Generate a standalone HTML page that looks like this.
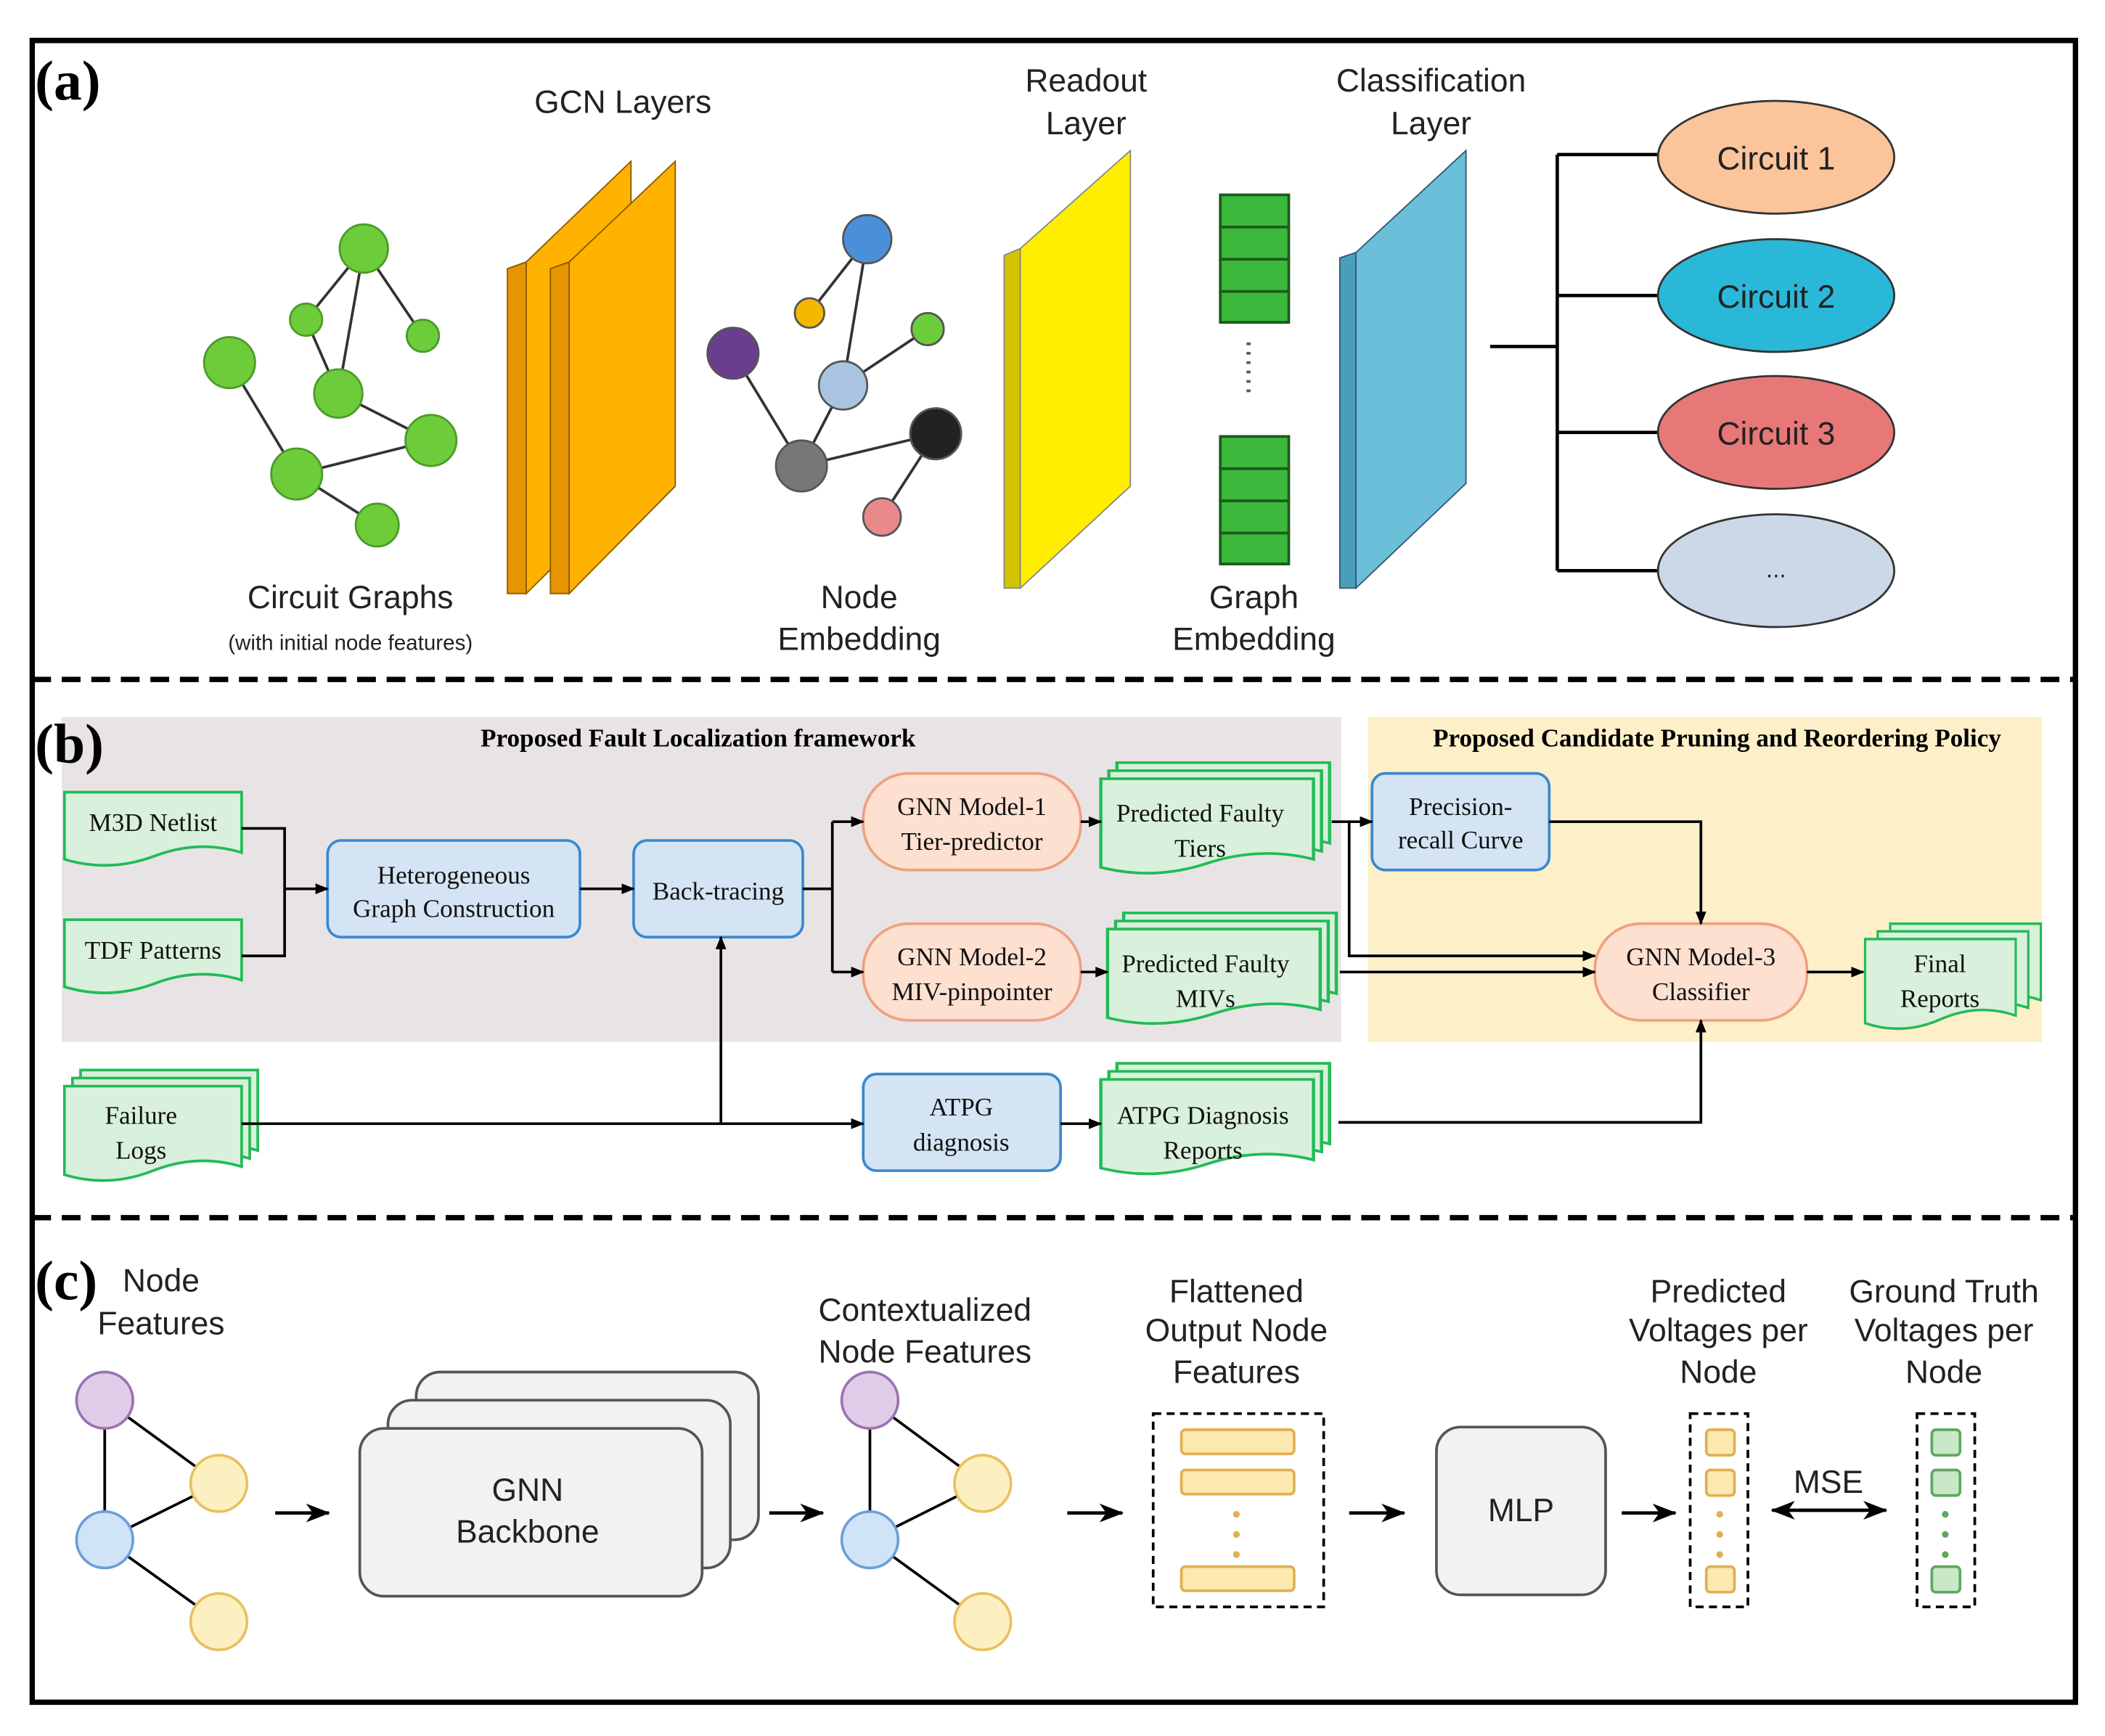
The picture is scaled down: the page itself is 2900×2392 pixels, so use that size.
<!DOCTYPE html>
<html><head><meta charset="utf-8"><style>html,body{margin:0;padding:0;background:#fff}svg{display:block}</style></head><body>
<svg width="2900" height="2392" viewBox="0 0 1568 1293" xmlns="http://www.w3.org/2000/svg">
<defs>
<marker id="ar" markerWidth="10" markerHeight="10" refX="9" refY="5" orient="auto" markerUnits="userSpaceOnUse"><path d="M0,1 L10,5 L0,9 z" fill="#000"/></marker>
<marker id="ar2" markerWidth="18" markerHeight="14" refX="17" refY="7" orient="auto" markerUnits="userSpaceOnUse"><path d="M0,0 L18,7 L0,14 L5,7 z" fill="#000"/></marker>
<symbol id="doc" overflow="visible"><path d="M0,0 H132 V45 Q99,35 66,48 Q33,60 0,50 Z" fill="#d8f0dc" stroke="#22bb55" stroke-width="2"/></symbol>
<symbol id="doc2" overflow="visible"><path d="M0,0 H132 V60 Q99,50 66,63 Q33,76 0,66 Z" fill="#d8f0dc" stroke="#22bb55" stroke-width="2"/></symbol>
</defs>
<rect width="1568" height="1293" fill="#fff"/>
<rect x="24" y="30" width="1522" height="1238" fill="none" stroke="#000" stroke-width="4"/>
<line x1="24" y1="506" x2="1546" y2="506" stroke="#000" stroke-width="4" stroke-dasharray="14 8"/>
<line x1="24" y1="907" x2="1546" y2="907" stroke="#000" stroke-width="4" stroke-dasharray="14 8"/>

<!-- (a) -->
<g stroke="#333" stroke-width="2" fill="none">
<path d="M271,185 L228,238 M271,185 L252,293 M271,185 L315,250 M228,238 L252,293 M252,293 L321,328 M171,270 L221,353 M221,353 L321,328 M221,353 L281,391"/>
<path d="M646,178 L603,233 M646,178 L628,287 M691,245 L628,287 M628,287 L597,347 M546,263 L597,347 M597,347 L697,323 M697,323 L657,385"/>
</g>
<g fill="#6dcc3a" stroke="#4c9a2a" stroke-width="1.5">
<circle cx="271" cy="185" r="18"/><circle cx="228" cy="238" r="12"/><circle cx="315" cy="250" r="12"/><circle cx="252" cy="293" r="18"/><circle cx="171" cy="270" r="19"/><circle cx="321" cy="328" r="19"/><circle cx="221" cy="353" r="19"/><circle cx="281" cy="391" r="16"/></g>
<g stroke="#555" stroke-width="1.5">
<circle cx="646" cy="178" r="18" fill="#4a90d9"/><circle cx="603" cy="233" r="11" fill="#f5b800"/><circle cx="691" cy="245" r="12" fill="#6dcc3a"/><circle cx="628" cy="287" r="18" fill="#a8c4e0"/><circle cx="546" cy="263" r="19" fill="#6a3d8f"/><circle cx="697" cy="323" r="19" fill="#222"/><circle cx="597" cy="347" r="19" fill="#777"/><circle cx="657" cy="385" r="14" fill="#e88a8a"/></g>
<g font-family="Liberation Sans,sans-serif" font-size="24" text-anchor="middle" fill="#222">
<text x="261" y="453">Circuit Graphs</text><text x="261" y="484" font-size="16">(with initial node features)</text>
<text x="464" y="84">GCN Layers</text>
<text x="640" y="453">Node</text><text x="640" y="484">Embedding</text>
<text x="809" y="68">Readout</text><text x="809" y="100">Layer</text>
<text x="934" y="453">Graph</text><text x="934" y="484">Embedding</text>
<text x="1066" y="68">Classification</text><text x="1066" y="100">Layer</text>
</g>
<g stroke="#8a5a00" stroke-width="1">
<polygon points="378,200 392,195 392,442 378,442" fill="#e69500"/><polygon points="392,195 470,120 470,365 392,442" fill="#ffb300"/>
<polygon points="410,200 424,195 424,442 410,442" fill="#e69500"/><polygon points="424,195 503,120 503,362 424,442" fill="#ffb300"/>
</g>
<polygon points="748,190 760,185 760,438 748,438" fill="#d4c400" stroke="#888" stroke-width="1"/><polygon points="760,185 842,112 842,362 760,438" fill="#ffee00" stroke="#888" stroke-width="1"/>
<polygon points="998,192 1010,188 1010,438 998,438" fill="#4a9fb8" stroke="#357" stroke-width="1"/><polygon points="1010,188 1092,112 1092,360 1010,438" fill="#6bbfd8" stroke="#357" stroke-width="1"/>
<g fill="#3cb83c" stroke="#1a5a1a" stroke-width="2">
<rect x="909" y="145" width="51" height="24"/><rect x="909" y="169" width="51" height="24"/><rect x="909" y="193" width="51" height="24"/><rect x="909" y="217" width="51" height="23"/>
<rect x="909" y="325" width="51" height="24"/><rect x="909" y="349" width="51" height="24"/><rect x="909" y="373" width="51" height="24"/><rect x="909" y="397" width="51" height="23"/></g>
<line x1="930" y1="255" x2="930" y2="297" stroke="#555" stroke-width="3" stroke-dasharray="2 5"/>
<g stroke="#000" stroke-width="2.5" fill="none"><path d="M1110,258 H1160 M1160,115 V425 M1160,115 H1240 M1160,220 H1240 M1160,322 H1240 M1160,425 H1240"/></g>
<g stroke="#333" stroke-width="1.5">
<ellipse cx="1323" cy="117" rx="88" ry="42" fill="#fbc49a"/><ellipse cx="1323" cy="220" rx="88" ry="42" fill="#2ab8d8"/><ellipse cx="1323" cy="322" rx="88" ry="42" fill="#e87878"/><ellipse cx="1323" cy="425" rx="88" ry="42" fill="#cbd8e8"/></g>
<g font-family="Liberation Sans,sans-serif" font-size="24" text-anchor="middle" fill="#222">
<text x="1323" y="126">Circuit 1</text><text x="1323" y="229">Circuit 2</text><text x="1323" y="331">Circuit 3</text><text x="1323" y="430" font-size="18">...</text></g>

<!-- (b) -->
<rect x="46" y="534" width="953" height="242" fill="#e8e4e6"/>
<rect x="1019" y="534" width="502" height="242" fill="#fdf0c8"/>
<g font-family="Liberation Serif,serif" font-weight="bold" font-size="19" text-anchor="middle"><text x="520" y="556">Proposed Fault Localization framework</text><text x="1279" y="556">Proposed Candidate Pruning and Reordering Policy</text></g>
<use href="#doc" x="48" y="590"/><use href="#doc" x="48" y="685"/>
<use href="#doc2" x="60" y="797"/><use href="#doc2" x="54" y="803"/><use href="#doc2" x="48" y="809"/>
<g transform="translate(832,568) scale(1.2,1)"><use href="#doc2" x="0" y="0"/><use href="#doc2" x="-5" y="6"/><use href="#doc2" x="-10" y="12"/></g>
<g transform="translate(837,680) scale(1.2,1)"><use href="#doc2" x="0" y="0"/><use href="#doc2" x="-5" y="6"/><use href="#doc2" x="-10" y="12"/></g>
<g transform="translate(832,792) scale(1.2,1)"><use href="#doc2" x="0" y="0"/><use href="#doc2" x="-5" y="6"/><use href="#doc2" x="-10" y="12"/></g>
<g transform="translate(1408,688) scale(0.85,0.95)"><use href="#doc2" x="0" y="0"/><use href="#doc2" x="-11" y="6"/><use href="#doc2" x="-22" y="12"/></g>
<g fill="#d4e4f4" stroke="#3a88d0" stroke-width="2">
<rect x="244" y="626" width="188" height="72" rx="10"/><rect x="472" y="626" width="126" height="72" rx="10"/><rect x="1022" y="576" width="132" height="72" rx="10"/><rect x="643" y="800" width="147" height="72" rx="10"/></g>
<g fill="#fde0d0" stroke="#f0a080" stroke-width="2">
<rect x="643" y="576" width="162" height="72" rx="34"/><rect x="643" y="688" width="162" height="72" rx="34"/><rect x="1188" y="688" width="158" height="72" rx="34"/></g>
<g stroke="#000" stroke-width="2" fill="none">
<path d="M180,617 H212 V712 H180"/><path d="M212,662 H244" marker-end="url(#ar)"/>
<path d="M432,662 H472" marker-end="url(#ar)"/>
<path d="M598,662 H620 M620,612 V724"/><path d="M620,612 H643" marker-end="url(#ar)"/><path d="M620,724 H643" marker-end="url(#ar)"/>
<path d="M805,612 H820" marker-end="url(#ar)"/><path d="M805,724 H825" marker-end="url(#ar)"/>
<path d="M992,612 H1022" marker-end="url(#ar)"/><path d="M1005,612 V712 H1188" marker-end="url(#ar)"/>
<path d="M998,724 H1188" marker-end="url(#ar)"/>
<path d="M1154,612 H1267 V688" marker-end="url(#ar)"/>
<path d="M1346,724 H1388" marker-end="url(#ar)"/>
<path d="M180,837 H643" marker-end="url(#ar)"/><path d="M537,837 V698" marker-end="url(#ar)"/>
<path d="M790,837 H820" marker-end="url(#ar)"/>
<path d="M997,836 H1267 V760" marker-end="url(#ar)"/>
</g>
<g font-family="Liberation Serif,serif" font-size="19" text-anchor="middle" fill="#111">
<text x="114" y="619">M3D Netlist</text><text x="114" y="714">TDF Patterns</text>
<text x="105" y="837">Failure</text><text x="105" y="863">Logs</text>
<text x="338" y="658">Heterogeneous</text><text x="338" y="683">Graph Construction</text>
<text x="535" y="670">Back-tracing</text>
<text x="724" y="607">GNN Model-1</text><text x="724" y="633">Tier-predictor</text>
<text x="724" y="719">GNN Model-2</text><text x="724" y="745">MIV-pinpointer</text>
<text x="894" y="612">Predicted Faulty</text><text x="894" y="638">Tiers</text>
<text x="898" y="724">Predicted Faulty</text><text x="898" y="750">MIVs</text>
<text x="1088" y="607">Precision-</text><text x="1088" y="632">recall Curve</text>
<text x="1267" y="719">GNN Model-3</text><text x="1267" y="745">Classifier</text>
<text x="1445" y="724">Final</text><text x="1445" y="750">Reports</text>
<text x="716" y="831">ATPG</text><text x="716" y="857">diagnosis</text>
<text x="896" y="837">ATPG Diagnosis</text><text x="896" y="863">Reports</text>
</g>

<!-- (c) -->
<g font-family="Liberation Sans,sans-serif" font-size="24" text-anchor="middle" fill="#222">
<text x="120" y="962">Node</text><text x="120" y="994">Features</text>
<text x="689" y="984">Contextualized</text><text x="689" y="1015">Node Features</text>
<text x="921" y="970">Flattened</text><text x="921" y="999">Output Node</text><text x="921" y="1030">Features</text>
<text x="1280" y="970">Predicted</text><text x="1280" y="999">Voltages per</text><text x="1280" y="1030">Node</text>
<text x="1448" y="970">Ground Truth</text><text x="1448" y="999">Voltages per</text><text x="1448" y="1030">Node</text>
<text x="1362" y="1112">MSE</text>
</g>
<g stroke="#000" stroke-width="2"><path d="M78,1043 V1147 M78,1043 L163,1105 M78,1147 L163,1105 M78,1147 L163,1208"/><path d="M648,1043 V1147 M648,1043 L732,1105 M648,1147 L732,1105 M648,1147 L732,1208"/></g>
<g stroke-width="2">
<circle cx="78" cy="1043" r="21" fill="#e0cce8" stroke="#9a73b0"/><circle cx="163" cy="1105" r="21" fill="#fdf0c0" stroke="#e8c060"/><circle cx="78" cy="1147" r="21" fill="#d0e4f8" stroke="#6a9fd8"/><circle cx="163" cy="1208" r="21" fill="#fdf0c0" stroke="#e8c060"/>
<circle cx="648" cy="1043" r="21" fill="#e0cce8" stroke="#9a73b0"/><circle cx="732" cy="1105" r="21" fill="#fdf0c0" stroke="#e8c060"/><circle cx="648" cy="1147" r="21" fill="#d0e4f8" stroke="#6a9fd8"/><circle cx="732" cy="1208" r="21" fill="#fdf0c0" stroke="#e8c060"/></g>
<g fill="#f2f2f2" stroke="#555" stroke-width="2">
<rect x="310" y="1022" width="255" height="125" rx="18"/><rect x="289" y="1043" width="255" height="125" rx="18"/><rect x="268" y="1064" width="255" height="125" rx="18"/>
<rect x="1070" y="1063" width="126" height="125" rx="18"/></g>
<g font-family="Liberation Sans,sans-serif" font-size="24" text-anchor="middle" fill="#222"><text x="393" y="1118">GNN</text><text x="393" y="1149">Backbone</text><text x="1133" y="1133">MLP</text></g>
<g stroke="#000" stroke-width="2.5" fill="none">
<path d="M205,1127 H245" marker-end="url(#ar2)"/><path d="M573,1127 H613" marker-end="url(#ar2)"/><path d="M795,1127 H836" marker-end="url(#ar2)"/><path d="M1005,1127 H1046" marker-end="url(#ar2)"/><path d="M1208,1127 H1248" marker-end="url(#ar2)"/>
<path d="M1340,1125 H1405" marker-end="url(#ar2)"/><path d="M1390,1125 H1320" marker-end="url(#ar2)"/>
</g>
<g fill="none" stroke="#000" stroke-width="2" stroke-dasharray="6 4"><rect x="859" y="1053" width="127" height="144"/><rect x="1259" y="1053" width="43" height="144"/><rect x="1428" y="1053" width="43" height="144"/></g>
<g fill="#fde8b0" stroke="#e0b050" stroke-width="2">
<rect x="880" y="1065" width="84" height="18" rx="3"/><rect x="880" y="1095" width="84" height="18" rx="3"/><rect x="880" y="1167" width="84" height="18" rx="3"/>
<rect x="1271" y="1065" width="21" height="19" rx="3"/><rect x="1271" y="1095" width="21" height="19" rx="3"/><rect x="1271" y="1167" width="21" height="19" rx="3"/></g>
<g fill="#c8e8c8" stroke="#60a860" stroke-width="2"><rect x="1439" y="1065" width="21" height="19" rx="3"/><rect x="1439" y="1095" width="21" height="19" rx="3"/><rect x="1439" y="1167" width="21" height="19" rx="3"/></g>
<g fill="#e0b050"><circle cx="921" cy="1128" r="2.5"/><circle cx="921" cy="1143" r="2.5"/><circle cx="921" cy="1158" r="2.5"/><circle cx="1281" cy="1128" r="2.5"/><circle cx="1281" cy="1143" r="2.5"/><circle cx="1281" cy="1158" r="2.5"/></g>
<g fill="#60a860"><circle cx="1449" cy="1128" r="2.5"/><circle cx="1449" cy="1143" r="2.5"/><circle cx="1449" cy="1158" r="2.5"/></g>

<g font-family="Liberation Serif,serif" font-weight="bold" font-size="42">
<text x="26" y="74">(a)</text><text x="26" y="568">(b)</text><text x="26" y="968">(c)</text></g>
</svg>
</body></html>
